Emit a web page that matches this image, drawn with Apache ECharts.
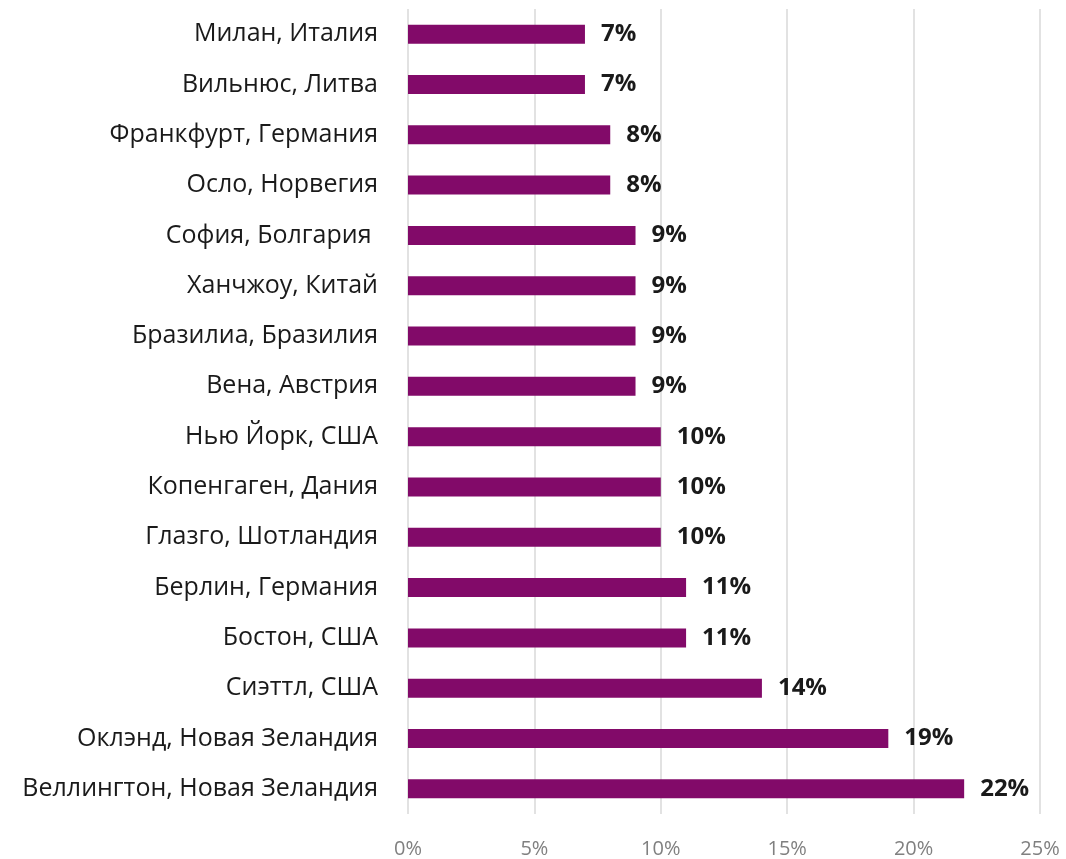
<!DOCTYPE html>
<html>
<head>
<meta charset="utf-8">
<script src="https://cdn.jsdelivr.net/npm/echarts@6/dist/echarts.min.js"></script>
<style>html,body{margin:0;padding:0;background:#fff;}#c{width:1066px;height:859px;}</style>
</head>
<body>
<div id="c"></div>
<script>
const categories = ["Милан, Италия","Вильнюс, Литва","Франкфурт, Германия","Осло, Норвегия","София, Болгария ","Ханчжоу, Китай","Бразилиа, Бразилия","Вена, Австрия","Нью Йорк, США","Копенгаген, Дания","Глазго, Шотландия","Берлин, Германия","Бостон, США","Сиэттл, США","Оклэнд, Новая Зеландия","Веллингтон, Новая Зеландия"];
const values = [7,7,8,8,9,9,9,9,10,10,10,11,11,14,19,22];
const tickValues = [0,5,10,15,20,25];

const chart = echarts.init(document.getElementById('c'));
chart.setOption({
  animation: false,
  textStyle: {fontFamily: 'Open Sans'},
  grid: {left: 408, right: 26, top: 9, bottom: 42, containLabel: false},
  xAxis: {
    type: 'value', min: 0, max: 25, interval: 5,
    axisLine: {show: false}, axisTick: {show: false},
    splitLine: {show: true, lineStyle: {color: '#d9d9d9', width: 1.5}},
    axisLabel: {color: '#808080', fontSize: 20, margin: 25, fontFamily: 'Open Sans',
      formatter: v => tickValues.includes(v) ? v + '%' : ''}
  },
  yAxis: {
    type: 'category', data: categories, inverse: true,
    axisLine: {show: false}, axisTick: {show: false},
    axisLabel: {color: '#1a1a1a', fontSize: 25, margin: 30, fontFamily: 'Open Sans'}
  },
  series: [{
    type: 'bar', data: values, barWidth: 19,
    itemStyle: {color: '#820a69'},
    label: {show: true, position: 'right', distance: 16, formatter: p => p.value + '%',
      color: '#1a1a1a', fontWeight: 'bold', fontSize: 24, fontFamily: 'Open Sans'}
  }]
});
</script>
</body>
</html>
